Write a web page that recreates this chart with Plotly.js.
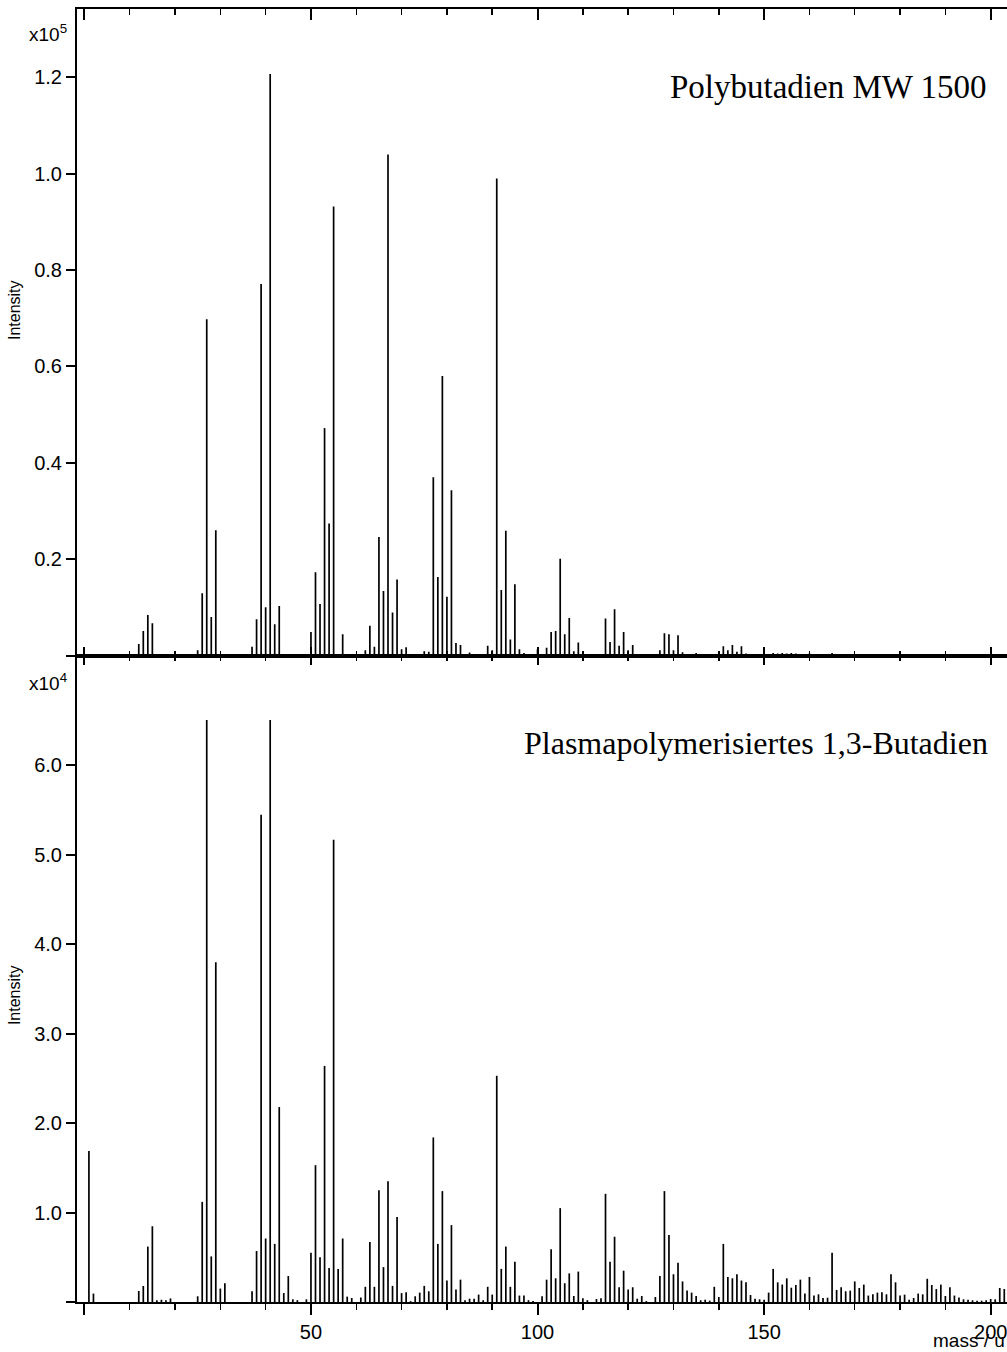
<!DOCTYPE html>
<html>
<head>
<meta charset="utf-8">
<script src="https://cdn.plot.ly/plotly-3.0.1.min.js"></script>
<style>html,body{margin:0;padding:0;background:#fff;}#chart{width:1007px;height:1352px;}</style>
</head>
<body>
<div id="chart"></div>
<script>
// ---- Data: Polybutadien MW 1500 (top panel) ----
const pbMass = [12,13,14,15,25,26,27,28,29,37,38,39,40,41,42,43,49,50,51,52,53,54,55,57,62,63,64,65,66,67,68,69,70,71,75,76,77,78,79,80,81,82,83,85,87,89,90,91,92,93,94,95,96,97,100,101,102,103,104,105,106,107,108,109,110,111,114,115,116,117,118,119,120,121,123,127,128,129,130,131,132,135,139,140,141,142,143,144,145,146,147,152,153,154,155,156,157,160,161,165,167,183];
const pbIntensity = [2400,5100,8400,6700,1100,12900,69800,8000,26000,1800,7500,77100,10000,120700,6500,10300,300,4900,17300,10700,47200,27400,93200,4400,1100,6200,1800,24600,13400,104000,8900,15800,1300,1700,900,800,37000,16300,58000,12200,34300,2600,2200,600,300,2000,1100,99000,13600,25900,3300,14800,1300,500,1300,300,1600,4900,5100,20100,4400,7800,900,2700,700,300,300,7700,2800,9600,2000,4900,1100,2200,300,1100,4600,4400,1100,4200,700,500,300,700,1900,1100,2200,800,1900,400,300,500,400,500,400,500,400,400,300,500,300,300];

// ---- Data: Plasmapolymerisiertes 1,3-Butadien (bottom panel) ----
const ppMass = [1,2,12,13,14,15,16,17,18,19,25,26,27,28,29,30,31,37,38,39,40,41,42,43,44,45,46,47,49,50,51,52,53,54,55,56,57,58,59,61,62,63,64,65,66,67,68,69,70,71,72,73,74,75,76,77,78,79,80,81,82,83,84,85,86,87,88,89,90,91,92,93,94,95,96,97,98,99,101,102,103,104,105,106,107,108,109,110,111,113,114,115,116,117,118,119,120,121,122,123,124,126,127,128,129,130,131,132,133,134,135,136,137,138,139,140,141,142,143,144,145,146,147,148,149,150,151,152,153,154,155,156,157,158,159,160,161,162,163,164,165,166,167,168,169,170,171,172,173,174,175,176,177,178,179,180,181,182,183,184,185,186,187,188,189,190,191,192,193,194,195,196,197,198,199,200,201,202,203];
const ppIntensity = [16900,940,1230,1790,6200,8470,200,250,200,400,640,11200,65100,5100,38000,1500,2100,1200,5700,54500,7100,65100,6500,21800,1000,2900,300,200,300,5500,15300,5000,26400,3800,51700,3700,7100,600,450,500,1700,6700,1700,12500,3900,13500,1800,9500,1000,1100,100,640,1050,1800,1200,18400,6500,12400,2400,8600,1400,2500,200,370,370,830,200,1700,830,25300,3700,6200,1700,4500,720,720,200,100,640,2500,5900,2650,10500,2100,3200,670,3400,410,200,330,410,12100,4500,7300,1650,3500,1400,1650,370,670,100,560,2900,12400,7500,3100,4400,2300,1300,1050,670,200,260,150,1700,560,6500,2800,2650,3100,2400,2200,780,370,300,260,1050,3700,2200,1950,2650,1600,1900,2500,940,2800,720,860,450,480,5500,1340,1650,1200,1270,2300,1570,1950,720,860,1050,1090,860,3100,2200,720,820,260,450,940,860,2600,1900,1450,1950,670,1650,720,490,300,260,190,150,150,190,340,300,1570,1450];

// ---- Tick labels ----
const topTickVals = [0,20000,40000,60000,80000,100000,120000];
const topTickText = ['','0.2','0.4','0.6','0.8','1.0','1.2'];
const botTickVals = [0,10000,20000,30000,40000,50000,60000];
const botTickText = ['','1.0','2.0','3.0','4.0','5.0','6.0'];

function stems(ms, vs) {
  const x = [], y = [];
  for (let i = 0; i < ms.length; i++) {
    x.push(ms[i], ms[i], null);
    y.push(0, vs[i], null);
  }
  return {x, y};
}

const s1 = stems(pbMass, pbIntensity);
const s2 = stems(ppMass, ppIntensity);
const lineStyle = {color: '#000', width: 1.7};

const traces = [
  {x: s2.x, y: s2.y, xaxis: 'x', yaxis: 'y', type: 'scatter', mode: 'lines', line: lineStyle, hoverinfo: 'skip', showlegend: false, connectgaps: false},
  {x: s1.x, y: s1.y, xaxis: 'x2', yaxis: 'y2', type: 'scatter', mode: 'lines', line: lineStyle, hoverinfo: 'skip', showlegend: false, connectgaps: false},
  {x: [null], y: [null], xaxis: 'x3', yaxis: 'y2', type: 'scatter', mode: 'lines', hoverinfo: 'skip', showlegend: false},
  {x: [null], y: [null], xaxis: 'x4', yaxis: 'y', type: 'scatter', mode: 'lines', hoverinfo: 'skip', showlegend: false}
];

const XR = [-1.63, 203.6];
const tickFont = {family: 'Liberation Sans, Arial, sans-serif', size: 20, color: '#000'};
function xax(extra) {
  return Object.assign({
    range: XR, autorange: false, showgrid: false, zeroline: false,
    showline: true, linecolor: '#000', linewidth: 2,
    tickmode: 'linear', tick0: 0, dtick: 50, tickcolor: '#000', tickwidth: 2,
    tickfont: tickFont, fixedrange: true
  }, extra);
}

const layout = {
  width: 1007, height: 1352,
  margin: {l: 77, r: 0, t: 9, b: 50},
  paper_bgcolor: '#fff', plot_bgcolor: '#fff',
  font: {family: 'Liberation Sans, Arial, sans-serif', color: '#000'},
  showlegend: false,
  xaxis: xax({anchor: 'y', side: 'bottom', ticks: 'outside', ticklen: 11, showticklabels: true,
    ticklabeloverflow: 'allow', labelalias: {'0': ''},
    minor: {tick0: 0, dtick: 10, ticks: 'outside', ticklen: 6, tickwidth: 1.5, tickcolor: '#000', showgrid: false}}),
  xaxis2: xax({anchor: 'y2', side: 'bottom', ticks: 'outside', ticklen: 7, showticklabels: false,
    minor: {tick0: 0, dtick: 10, ticks: 'outside', ticklen: 3, tickwidth: 1.5, tickcolor: '#000', showgrid: false}}),
  xaxis3: xax({anchor: 'y2', overlaying: 'x2', side: 'top', ticks: 'inside', ticklen: 11, showticklabels: false,
    minor: {tick0: 0, dtick: 10, ticks: 'inside', ticklen: 6, tickwidth: 1.5, tickcolor: '#000', showgrid: false}}),
  xaxis4: xax({anchor: 'y', overlaying: 'x', side: 'top', ticks: 'outside', ticklen: 7, showticklabels: false,
    minor: {tick0: 0, dtick: 10, ticks: 'outside', ticklen: 3, tickwidth: 1.5, tickcolor: '#000', showgrid: false}}),
  yaxis: {domain: [0, 0.5], range: [0, 72300], autorange: false, anchor: 'x', showgrid: false, zeroline: false,
    showline: true, linecolor: '#000', linewidth: 2, ticks: 'outside', ticklen: 9, tickwidth: 2, tickcolor: '#000',
    tickmode: 'array', tickvals: botTickVals, ticktext: botTickText, tickfont: tickFont, fixedrange: true},
  yaxis2: {domain: [0.5, 1], range: [0, 134200], autorange: false, anchor: 'x2', showgrid: false, zeroline: false,
    showline: true, linecolor: '#000', linewidth: 2, ticks: 'outside', ticklen: 9, tickwidth: 2, tickcolor: '#000',
    tickmode: 'array', tickvals: topTickVals, ticktext: topTickText, tickfont: tickFont, fixedrange: true},
  annotations: [
    {text: 'x10<sup>5</sup>', xref: 'paper', yref: 'paper', x: -0.054, y: 0.9814, xanchor: 'left', yanchor: 'middle', showarrow: false, font: {family: 'Liberation Sans, Arial, sans-serif', size: 19, color: '#000'}},
    {text: 'x10<sup>4</sup>', xref: 'paper', yref: 'paper', x: -0.054, y: 0.4795, xanchor: 'left', yanchor: 'middle', showarrow: false, font: {family: 'Liberation Sans, Arial, sans-serif', size: 19, color: '#000'}},
    {text: 'Intensity', xref: 'paper', yref: 'paper', x: -0.0677, y: 0.7672, xanchor: 'center', yanchor: 'middle', textangle: -90, showarrow: false, font: {family: 'Liberation Sans, Arial, sans-serif', size: 16, color: '#000'}},
    {text: 'Intensity', xref: 'paper', yref: 'paper', x: -0.0677, y: 0.2374, xanchor: 'center', yanchor: 'middle', textangle: -90, showarrow: false, font: {family: 'Liberation Sans, Arial, sans-serif', size: 16, color: '#000'}},
    {text: 'mass / u', xref: 'paper', yref: 'paper', x: 1.0, y: -0.0294, xanchor: 'right', yanchor: 'middle', showarrow: false, font: {family: 'Liberation Sans, Arial, sans-serif', size: 19, color: '#000'}},
    {text: 'Polybutadien MW 1500', xref: 'paper', yref: 'paper', x: 0.6355, y: 0.9400, xanchor: 'left', yanchor: 'middle', showarrow: false, font: {family: 'Liberation Serif, Times New Roman, serif', size: 33, color: '#000'}},
    {text: 'Plasmapolymerisiertes 1,3-Butadien', xref: 'paper', yref: 'paper', x: 0.4785, y: 0.4320, xanchor: 'left', yanchor: 'middle', showarrow: false, font: {family: 'Liberation Serif, Times New Roman, serif', size: 32, color: '#000'}}
  ]
};

Plotly.newPlot('chart', traces, layout, {displayModeBar: false, staticPlot: true});
</script>
</body>
</html>
